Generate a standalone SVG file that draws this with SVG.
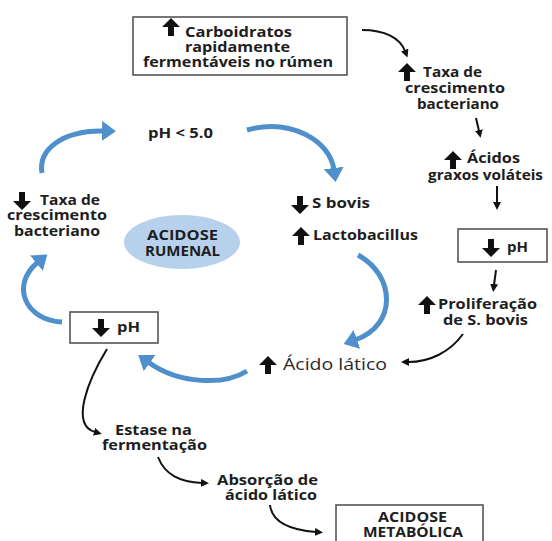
<svg xmlns="http://www.w3.org/2000/svg" width="552" height="541" viewBox="0 0 552 541">
<style>
  .t{font-family:"Open Sans","DejaVu Sans",sans-serif;font-weight:700;font-size:14px;fill:#1e1e1e}
  .c{text-anchor:middle}
  .box{fill:#fff;stroke:#555;stroke-width:1.6}
  .blue{fill:none;stroke:#4f8fcc;stroke-width:5;stroke-linecap:butt}
  .blk{fill:none;stroke:#111;stroke-width:2}
</style>
<defs>
  <path id="up" d="M0,-9 L9,0 L3,0 L3,9 L-3,9 L-3,0 L-9,0 Z" fill="#111"/>
  <path id="dn" d="M0,9 L9,0 L3,0 L3,-9 L-3,-9 L-3,0 L-9,0 Z" fill="#111"/>
  <marker id="bh" viewBox="0 0 14 20" markerWidth="14" markerHeight="20" refX="2" refY="10" orient="auto" markerUnits="userSpaceOnUse">
    <path d="M0,0 L14,10 L0,20 Z" fill="#4f8fcc"/>
  </marker>
  <marker id="kh" viewBox="0 0 8 8" markerWidth="8" markerHeight="8" refX="1" refY="4" orient="auto" markerUnits="userSpaceOnUse">
    <path d="M0,0 L8,4 L0,8 Z" fill="#111"/>
  </marker>
</defs>

<g id="connectors">
  <path class="blue" d="M42,173 C38,150 62,130 104,131" marker-end="url(#bh)"/>
  <path class="blue" d="M247,130 C290,118 330,140 334,170" marker-end="url(#bh)"/>
  <path class="blue" d="M358,255 C395,275 398,325 355,340" marker-end="url(#bh)"/>
  <path class="blue" d="M247,371 C225,385 180,385 148,362" marker-end="url(#bh)"/>
  <path class="blue" d="M62,322 C25,320 10,285 38,262" marker-end="url(#bh)"/>
  <path class="blk" d="M362,30 C385,30 400,38 405,51" marker-end="url(#kh)"/>
  <path class="blk" d="M476,118 L479,131" marker-end="url(#kh)"/>
  <path class="blk" d="M497,186 L497,203" marker-end="url(#kh)"/>
  <path class="blk" d="M496,270 L494,285" marker-end="url(#kh)"/>
  <path class="blk" d="M463,334 C450,352 430,362 408,362" marker-end="url(#kh)"/>
  <path class="blk" d="M107,349 C88,380 70,425 95,432" marker-end="url(#kh)"/>
  <path class="blk" d="M158,457 C165,475 180,482 202,483" marker-end="url(#kh)"/>
  <path class="blk" d="M270,505 C272,522 290,530 316,532" marker-end="url(#kh)"/>
</g>

<g id="carboidratos">
  <rect class="box" x="133" y="17" width="214" height="58" stroke-width="2" stroke="#333"/>
  <use href="#up" x="171" y="27"/>
  <text class="t" x="185" y="37" textLength="107" lengthAdjust="spacingAndGlyphs">Carboidratos</text>
  <text class="t" x="185" y="52" textLength="105" lengthAdjust="spacingAndGlyphs">rapidamente</text>
  <text class="t" x="143" y="67" textLength="190" lengthAdjust="spacingAndGlyphs">fermentáveis no rúmen</text>
</g>

<g id="taxa-up">
  <use href="#up" x="407" y="72"/>
  <text class="t" x="423" y="77" textLength="59" lengthAdjust="spacingAndGlyphs">Taxa de</text>
  <text class="t" x="405" y="93" textLength="100" lengthAdjust="spacingAndGlyphs">crescimento</text>
  <text class="t" x="417" y="109" textLength="82" lengthAdjust="spacingAndGlyphs">bacteriano</text>
</g>

<g id="acidos-graxos">
  <use href="#up" x="453" y="160"/>
  <text class="t" x="467" y="163" textLength="53" lengthAdjust="spacingAndGlyphs">Ácidos</text>
  <text class="t" x="428" y="180" textLength="115" lengthAdjust="spacingAndGlyphs">graxos voláteis</text>
</g>

<g id="ph-right">
  <rect class="box" x="458" y="229" width="89" height="33"/>
  <use href="#dn" x="491" y="248"/>
  <text class="t" x="507" y="252" textLength="21" lengthAdjust="spacingAndGlyphs">pH</text>
</g>

<g id="proliferacao">
  <use href="#up" x="427" y="305"/>
  <text class="t" x="438" y="309" textLength="99" lengthAdjust="spacingAndGlyphs">Proliferação</text>
  <text class="t" x="443" y="325" textLength="85" lengthAdjust="spacingAndGlyphs">de S. bovis</text>
</g>

<g id="acido-latico">
  <use href="#up" x="268" y="365"/>
  <text x="283" y="370" textLength="104" lengthAdjust="spacingAndGlyphs" style="font-family:'Open Sans','DejaVu Sans',sans-serif;font-size:16px;fill:#2a2a2a">Ácido lático</text>
</g>

<g id="ph-lt-5">
  <text class="t" x="148" y="138" textLength="65" lengthAdjust="spacingAndGlyphs">pH &lt; 5.0</text>
</g>

<g id="taxa-down">
  <use href="#dn" x="22" y="201"/>
  <text class="t" x="40" y="205" textLength="60" lengthAdjust="spacingAndGlyphs">Taxa de</text>
  <text class="t" x="7" y="220" textLength="100" lengthAdjust="spacingAndGlyphs">crescimento</text>
  <text class="t" x="14" y="236" textLength="86" lengthAdjust="spacingAndGlyphs">bacteriano</text>
</g>

<g id="acidose-ruminal">
  <ellipse cx="182" cy="242" rx="58" ry="27" fill="#b7d1ec"/>
  <text class="t" x="147" y="240" textLength="71" lengthAdjust="spacingAndGlyphs">ACIDOSE</text>
  <text class="t" x="145" y="256" textLength="75" lengthAdjust="spacingAndGlyphs">RUMENAL</text>
</g>

<g id="sbovis-lacto">
  <use href="#dn" x="300" y="205"/>
  <text class="t" x="312" y="208" textLength="58" lengthAdjust="spacingAndGlyphs">S bovis</text>
  <use href="#up" x="301" y="236"/>
  <text class="t" x="313" y="240" textLength="105" lengthAdjust="spacingAndGlyphs">Lactobacillus</text>
</g>

<g id="ph-left">
  <rect class="box" x="70" y="312" width="88" height="31"/>
  <use href="#dn" x="101" y="328"/>
  <text class="t" x="117" y="332" textLength="23" lengthAdjust="spacingAndGlyphs">pH</text>
</g>

<g id="estase">
  <text class="t" x="115" y="435" textLength="77" lengthAdjust="spacingAndGlyphs">Estase na</text>
  <text class="t" x="102" y="450" textLength="105" lengthAdjust="spacingAndGlyphs">fermentação</text>
</g>

<g id="absorcao">
  <text class="t" x="217" y="485" textLength="101" lengthAdjust="spacingAndGlyphs">Absorção de</text>
  <text class="t" x="225" y="500" textLength="92" lengthAdjust="spacingAndGlyphs">ácido lático</text>
</g>

<g id="acidose-metabolica">
  <rect class="box" x="336" y="505" width="147" height="45"/>
  <text class="t" x="378" y="522" textLength="69" lengthAdjust="spacingAndGlyphs">ACIDOSE</text>
  <text class="t" x="363" y="537" textLength="100" lengthAdjust="spacingAndGlyphs">METABÓLICA</text>
</g>
</svg>
